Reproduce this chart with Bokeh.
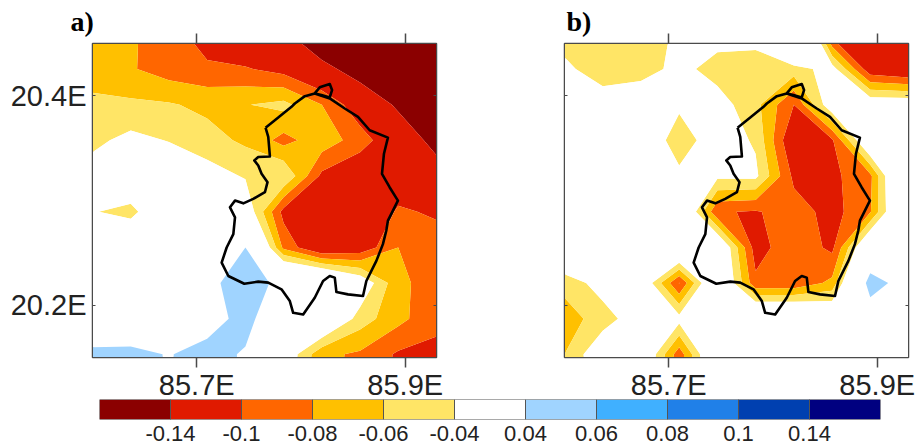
from bokeh.embed import file_html
from bokeh.resources import INLINE
from bokeh.plotting import figure
from bokeh.layouts import column, row
from bokeh.models import LinearAxis, FixedTicker, ColumnDataSource, Title
import numpy as np

lons = [85.6, 85.6367, 85.6733, 85.71, 85.7467, 85.7833, 85.82, 85.8567, 85.8933, 85.93]
lats = [20.4597, 20.4256, 20.3915, 20.3575, 20.3234, 20.2893, 20.2552, 20.2211, 20.1870, 20.1530, 20.1189]

panel_a = [
    [-.07, -.078, -.088, -.115, -.125, -.135, -.17, -.2, -.22, -.24],
    [-.07, -.078, -.09, -.095, -.098, -.108, -.13, -.155, -.19, -.22],
    [-.055, -.056, -.058, -.065, -.061, -.054, -.08, -.115, -.145, -.18],
    [-.045, -.034, -.041, -.052, -.064, -.087, -.068, -.09, -.12, -.15],
    [-.03, -.005, -.02, -.03, -.042, -.04, -.105, -.12, -.115, -.126],
    [-.038, -.05, .0, .0, -.02, -.107, -.125, -.125, -.097, -.103],
    [.0, .0, .0, .01, .04, -.085, -.125, -.115, -.08, -.09],
    [.0, .0, .0, .032, .055, .031, .02, -.02, -.075, -.09],
    [.0, .005, .01, .022, .054, .0, .0, -.05, -.074, -.095],
    [.05, .05, .038, .054, .036, -.02, -.075, -.0835, -.103, -.105],
    [.05, .05, .038, .054, .036, -.02, -.075, -.0835, -.103, -.105],
]
panel_b = [
    [-.05, -.055, -.055, -.035, -.03, -.027, .05, -.11, -.14, -.14],
    [-.035, -.052, -.05, -.033, -.049, -.055, -.05, -.03, -.115, -.125],
    [0, -.027, -.02, -.036, -.03, -.054, -.10, -.022, -.02, -.02],
    [0, 0, -.018, -.052, -.026, -.043, -.123, -.103, -.005, 0],
    [0, 0, 0, -.035, -.035, -.035, -.105, -.105, -.085, .03],
    [0, 0, 0, .005, -.098, -.102, -.09, -.108, -.082, .02],
    [0, 0, 0, .006, -.005, -.11, -.085, -.105, .0, 0],
    [-.053, -.03, -.015, -.101, .002, -.095, -.095, -.075, .055, .023],
    [-.07, -.05, -.025, -.032, 0, .01, .01, -.005, .017, .01],
    [-.06, -.02, -.007, -.092, .003, 0, 0, 0, 0, 0],
    [-.06, -.02, -.007, -.092, .003, 0, 0, 0, 0, 0],
]

levels = [-1, -.14, -.1, -.08, -.06, -.04, .04, .06, .08, .1, .14, 1]
colors = ["#8B0000", "#E01A00", "#FF6600", "#FFC000", "#FFE566", "#FFFFFF",
          "#A0D4FF", "#40B0FF", "#2080E8", "#0040B0", "#000080"]
bar_labels = ["-0.14", "-0.1", "-0.08", "-0.06", "-0.04", "0.04", "0.06", "0.08", "0.1", "0.14"]

outline_lon = [85.7660, 85.7782, 85.7909, 85.7941, 85.8037, 85.8132, 85.8180, 85.8276, 85.8298, 85.8276,
               85.8196, 85.8132, 85.8196, 85.8276, 85.8420, 85.8547, 85.8659, 85.8834, 85.8796, 85.8777,
               85.8850, 85.8930, 85.8882, 85.8834, 85.8818, 85.8786, 85.8723, 85.8627, 85.8595, 85.8451,
               85.8340, 85.8324, 85.8276, 85.8212, 85.8132, 85.8021, 85.7925, 85.7893, 85.7813, 85.7686,
               85.7590, 85.7456, 85.7303, 85.7239, 85.7287, 85.7351, 85.7367, 85.7319, 85.7367, 85.7447,
               85.7542, 85.7654, 85.7679, 85.7622, 85.7590, 85.7552, 85.7590, 85.7702, 85.7686, 85.7660]
outline_lat = [20.3696, 20.3792, 20.3895, 20.3927, 20.3997, 20.4023, 20.4081, 20.4113, 20.4055, 20.3985,
               20.4007, 20.4023, 20.4000, 20.3975, 20.3879, 20.3799, 20.3671, 20.3601, 20.3447, 20.3255,
               20.3127, 20.2999, 20.2903, 20.2807, 20.2711, 20.2583, 20.2423, 20.2231, 20.2087, 20.2103,
               20.2125, 20.2263, 20.2279, 20.2231, 20.2071, 20.1911, 20.1927, 20.2039, 20.2151, 20.2215,
               20.2225, 20.2205, 20.2279, 20.2407, 20.2551, 20.2679, 20.2839, 20.2935, 20.2999, 20.2973,
               20.3015, 20.3079, 20.3175, 20.3255, 20.3335, 20.3383, 20.3415, 20.3421, 20.3607, 20.3696]

FONT = "Liberation Sans"
GREY = "#4a4a4a"
XT = [85.7, 85.9]
YT = [20.2, 20.4]


def panel(z, tag, tag_off, left, right, show_y):
    p = figure(width=left + 344 + right, height=43 + 314 + 38, frame_width=344, frame_height=314,
               x_range=(85.6, 85.93), y_range=(20.15, 20.45),
               output_backend="svg", toolbar_location=None,
               min_border_left=left, min_border_right=right, min_border_top=43, min_border_bottom=38,
               outline_line_color=GREY, outline_line_width=1.5)
    p.grid.visible = False
    x, y = np.meshgrid(lons, lats[::-1])
    zz = np.array(z, dtype=float)[::-1]
    p.contour(x, y, zz, levels, fill_color=colors, line_color=None)
    p.line(outline_lon, outline_lat, line_color="black", line_width=2.6, line_join="round")

    ax = p.xaxis[0]
    ax.ticker = FixedTicker(ticks=XT)
    ax.major_tick_out = 10
    ax.major_tick_in = 0
    ax.minor_tick_line_color = None
    ax.major_tick_line_color = GREY
    ax.major_tick_line_width = 1.5
    ax.axis_line_color = GREY
    ax.major_label_overrides = {85.7: "85.7E", 85.9: "85.9E"}
    ax.major_label_text_font = FONT
    ax.major_label_text_font_size = "29px"
    ax.major_label_text_color = "#222222"
    ax.major_label_standoff = 1

    extra = LinearAxis(ticker=FixedTicker(ticks=XT), major_tick_out=10, major_tick_in=0,
                       minor_tick_line_color=None, major_tick_line_color=GREY, major_tick_line_width=1.5,
                       axis_line_color=GREY, major_label_standoff=0, major_label_overrides={85.7: "", 85.9: ""})
    p.add_layout(extra, "above")
    p.add_layout(Title(text=tag, align="left", offset=tag_off, standoff=-6, text_font="Liberation Serif",
                       text_font_style="bold", text_font_size="28px", text_color="black"), "above")

    ax = p.yaxis[0]
    ax.ticker = FixedTicker(ticks=YT)
    ax.major_tick_out = 0
    ax.major_tick_in = 3
    ax.minor_tick_line_color = None
    ax.major_tick_line_color = GREY
    ax.axis_line_color = GREY
    ax.major_label_orientation = "horizontal"
    ax.major_label_standoff = 6
    if show_y:
        ax.major_label_overrides = {20.2: "20.2E", 20.4: "20.4E"}
        ax.major_label_text_font = FONT
        ax.major_label_text_font_size = "29px"
        ax.major_label_text_color = "#222222"
    else:
        ax.major_label_overrides = {20.2: "", 20.4: ""}
    rax = LinearAxis(ticker=FixedTicker(ticks=YT), major_tick_out=0, major_tick_in=3,
                     minor_tick_line_color=None, major_tick_line_color=GREY,
                     axis_line_color=GREY, major_label_overrides={20.2: "", 20.4: ""})
    p.add_layout(rax, "right")
    return p


pa = panel(panel_a, "a)", -22, 92, 40, True)
pb = panel(panel_b, "b)", 2, 88, 8, False)

cb = figure(width=916, height=46, frame_width=781, frame_height=20, x_range=(0, 11), y_range=(0, 1),
            output_backend="svg", toolbar_location=None,
            min_border_left=99, min_border_right=36, min_border_top=0, min_border_bottom=26,
            outline_line_color=None, margin=(-4, 0, 0, 0))
cb.grid.visible = False
cb.yaxis.visible = False
src = ColumnDataSource(dict(left=list(range(11)), right=list(range(1, 12)), color=colors))
cb.quad(left="left", right="right", bottom=0, top=1, fill_color="color", line_color="#555555", line_width=1, source=src)
cb.xaxis.ticker = FixedTicker(ticks=list(range(1, 11)))
cb.xaxis.major_label_overrides = {i + 1: t for i, t in enumerate(bar_labels)}
cb.xaxis.major_tick_line_color = None
cb.xaxis.minor_tick_line_color = None
cb.xaxis.axis_line_color = None
cb.xaxis.major_label_text_font = FONT
cb.xaxis.major_label_text_font_size = "22px"
cb.xaxis.major_label_text_color = "#222222"
cb.xaxis.major_label_standoff = 0

layout = column(row(pa, pb), cb)
open("out.html", "w").write(file_html(layout, INLINE))
